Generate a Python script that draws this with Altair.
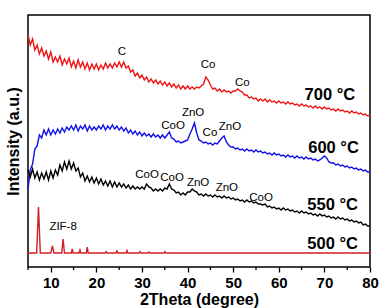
import altair as alt
import numpy as np
import pandas as pd

# 2-theta sampling grid shared by the three calcined samples (degrees)
two_theta = np.round(np.arange(5.0, 80.01, 0.5), 1)

# Intensities (arbitrary units, stacked with offsets) on the 0.5 degree grid
i_700 = [
    232, 222, 228, 217, 222, 213, 219, 211, 216, 208,
    215, 205, 210, 205, 211, 202, 208, 203, 209, 200,
    206, 199, 207, 200, 205, 198, 204, 197, 203, 198,
    203, 197, 202, 198, 204, 199, 203, 199, 204, 200,
    205, 200, 205, 199, 201, 195, 197, 191, 194, 189,
    192, 187, 190, 185, 188, 184, 187, 183, 186, 182,
    185, 181, 184, 180, 183, 179, 182, 178, 181, 178,
    181, 178, 180, 178, 180, 179, 181, 183, 190, 187,
    182, 178, 179, 176, 178, 175, 177, 175, 176, 174,
    176, 176, 178, 176, 175, 172, 172, 169, 170, 168,
    169, 166, 168, 166, 168, 165, 167, 165, 166, 164,
    166, 164, 165, 163, 165, 163, 164, 162, 163, 161,
    163, 161, 162, 160, 161, 159, 161, 159, 160, 158,
    160, 158, 159, 157, 158, 156, 158, 156, 157, 155,
    156, 154, 156, 154, 155, 153, 154, 152, 153, 151,
    152,
]
i_600 = [
    78, 97, 103, 118, 121, 132, 129, 137, 132, 138,
    132, 137, 133, 138, 134, 139, 135, 140, 137, 141,
    137, 142, 136, 141, 138, 142, 136, 141, 137, 140,
    137, 141, 138, 142, 137, 141, 138, 142, 138, 141,
    137, 140, 136, 139, 134, 137, 133, 136, 132, 135,
    131, 134, 131, 133, 130, 133, 130, 132, 129, 132,
    129, 132, 135, 129, 128, 125, 126, 124, 125, 126,
    127, 133, 138, 144, 134, 127, 126, 124, 125, 123,
    124, 122, 124, 123, 126, 129, 131, 125, 122, 120,
    120, 118, 119, 117, 118, 116, 118, 116, 117, 115,
    117, 115, 116, 114, 115, 113, 114, 112, 114, 112,
    113, 111, 112, 110, 112, 110, 111, 109, 111, 109,
    110, 108, 110, 108, 109, 107, 108, 106, 107, 109,
    111, 109, 105, 104, 104, 102, 103, 101, 102, 100,
    101, 99, 100, 98, 99, 97, 98, 96, 97, 95,
    95,
]
i_550 = [
    97, 90, 98, 89, 95, 87, 94, 88, 95, 87,
    96, 89, 97, 92, 102, 96, 105, 98, 106, 98,
    104, 96, 99, 90, 94, 86, 91, 85, 90, 84,
    89, 83, 88, 82, 86, 81, 86, 80, 85, 80,
    84, 80, 83, 79, 82, 78, 81, 78, 80, 78,
    80, 78, 83, 80, 79, 76, 78, 76, 78, 76,
    79, 78, 83, 78, 77, 74, 75, 72, 74, 72,
    75, 75, 78, 76, 75, 72, 73, 71, 73, 71,
    72, 70, 72, 70, 71, 69, 71, 69, 70, 68,
    69, 67, 68, 66, 67, 65, 67, 65, 66, 64,
    65, 63, 63, 62, 63, 60, 61, 59, 60, 58,
    59, 57, 59, 57, 58, 56, 57, 55, 56, 54,
    56, 54, 55, 53, 54, 52, 53, 51, 53, 51,
    52, 50, 51, 49, 50, 48, 50, 48, 49, 47,
    48, 46, 47, 45, 46, 44, 45, 42, 43, 41,
    41,
]

# Simulated ZIF-8 reference pattern (500 C), sharp reflections on a flat baseline
zif_theta = [5, 6.9, 7.3, 7.7, 10.0, 10.35, 10.7, 12.4, 12.7, 13.0,
             14.5, 14.7, 14.9, 16.2, 16.4, 16.6, 17.8, 18.0, 18.2,
             21.9, 22.1, 22.3, 24.3, 24.5, 24.7, 26.5, 26.7, 26.9,
             29.4, 29.6, 29.8, 31.3, 31.5, 31.7, 34.8, 35.0, 35.2, 80]
zif_int = [14, 14, 60, 14, 14, 21, 14, 14, 28, 14,
           14, 18, 14, 14, 17, 14, 14, 20, 14,
           14, 15.5, 14, 14, 16, 14, 14, 16.5, 14,
           14, 15.5, 14, 14, 15, 14, 14, 15.5, 14, 14]

series_names = ["500 °C", "550 °C", "600 °C", "700 °C"]
series_colors = ["#cf2027", "#000000", "#1010e6", "#ee1515"]

# Phase labels over the reflections
peak_text = ["C", "Co", "Co", "ZnO", "CoO", "Co", "ZnO",
             "CoO", "CoO", "ZnO", "ZnO", "CoO", "ZIF-8"]
peak_x = [25.6, 44.5, 52.0, 41.2, 36.8, 44.9, 49.3,
          31.1, 36.6, 42.3, 48.6, 56.1, 12.7]
peak_y = [215, 202, 184, 154, 141, 134, 140,
          92, 89, 84, 79, 69, 40]

# Temperature labels at the right end of each trace
temp_text = ["700 °C", "600 °C", "550 °C", "500 °C"]
temp_x = [71.2, 72.0, 71.8, 71.8]
temp_y = [172, 119, 62, 23]

major_ticks = [10, 20, 30, 40, 50, 60, 70, 80]
minor_ticks = [5, 15, 25, 35, 45, 55, 65, 75]

FONT = "Liberation Sans"

frames = []
for name, vals in [("700 °C", i_700), ("600 °C", i_600), ("550 °C", i_550)]:
    frames.append(pd.DataFrame({"theta": two_theta, "intensity": vals, "sample": name}))
frames.append(pd.DataFrame({"theta": zif_theta, "intensity": zif_int, "sample": "500 °C"}))
lines_df = pd.concat(frames, ignore_index=True)
lines_df["order"] = range(len(lines_df))

peaks_df = pd.DataFrame({"label": peak_text, "theta": peak_x, "intensity": peak_y})
temps_df = pd.DataFrame({"label": temp_text, "theta": temp_x, "intensity": temp_y})
minor_df = pd.DataFrame({"theta": minor_ticks})

x_scale = alt.Scale(domain=[5, 80], nice=False, zero=False)
y_scale = alt.Scale(domain=[0, 252], nice=False, zero=False)

lines = alt.Chart(lines_df).mark_line(strokeWidth=1.4).encode(
    x=alt.X(
        "theta:Q",
        scale=x_scale,
        axis=alt.Axis(
            values=major_ticks,
            title="2Theta (degree)",
            grid=False,
            domain=False,
            tickColor="black",
            tickWidth=1.3,
            tickSize=5,
            labelFont=FONT,
            labelFontSize=15,
            labelFontWeight="bold",
            labelColor="black",
            labelPadding=3,
            labelFlush=False,
            titleFont=FONT,
            titleFontSize=16,
            titleFontWeight="bold",
            titleColor="black",
            titleBaseline="top",
            titleY=24,
        ),
    ),
    y=alt.Y(
        "intensity:Q",
        scale=y_scale,
        axis=alt.Axis(
            labels=False,
            ticks=False,
            domain=False,
            grid=False,
            title="Intensity (a.u.)",
            titleFont=FONT,
            titleFontSize=16,
            titleFontWeight="bold",
            titleColor="black",
            titleAngle=270,
            titleBaseline="middle",
            titleAlign="center",
            titleX=-15,
            titleY=126,
        ),
    ),
    color=alt.Color("sample:N", scale=alt.Scale(domain=series_names, range=series_colors), legend=None),
    detail="sample:N",
    order="order:Q",
)

# Short minor ticks between the labelled ones
minor = alt.Chart(minor_df).mark_rule(color="black", strokeWidth=1.3).encode(
    x=alt.X("theta:Q", scale=x_scale),
    y=alt.value(252),
    y2=alt.value(255),
)

peaks = alt.Chart(peaks_df).mark_text(
    font=FONT, fontSize=11.5, color="black", baseline="middle", align="center"
).encode(
    x=alt.X("theta:Q", scale=x_scale),
    y=alt.Y("intensity:Q", scale=y_scale),
    text="label:N",
)

temps = alt.Chart(temps_df).mark_text(
    font=FONT, fontSize=16.5, fontWeight="bold", color="black", baseline="middle", align="center"
).encode(
    x=alt.X("theta:Q", scale=x_scale),
    y=alt.Y("intensity:Q", scale=y_scale),
    text="label:N",
)

chart = alt.layer(lines, minor, peaks, temps).properties(
    width=342,
    height=252,
    padding={"left": 28, "top": 15, "right": 11, "bottom": 41},
    autosize=alt.AutoSizeParams(type="none"),
    background="white",
).configure_view(stroke="black", strokeWidth=1.5)

chart.save("out.html", embed_options={"renderer": "svg", "actions": False})
